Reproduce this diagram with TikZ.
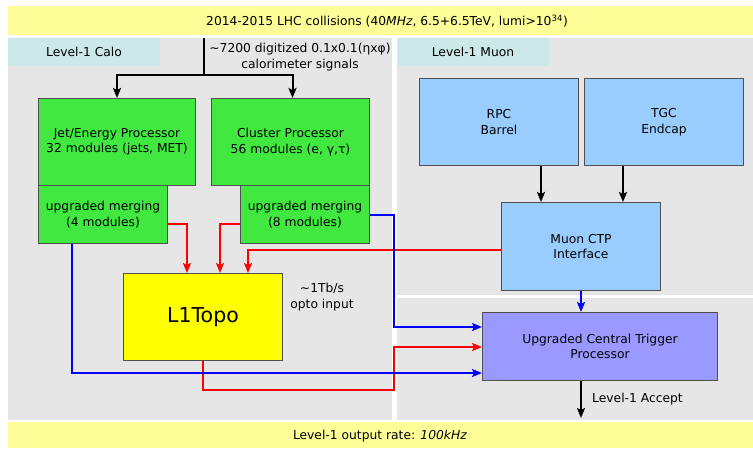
\documentclass[tikz,border=0pt]{standalone}
\usepackage{fontspec}
\setmainfont{DejaVu Sans}
\usetikzlibrary{arrows.meta,calc}
\definecolor{band}{HTML}{FFFF99}
\definecolor{panel}{HTML}{E6E6E6}
\definecolor{lab}{HTML}{CCE8E8}
\definecolor{grn}{HTML}{40E840}
\definecolor{lblue}{HTML}{99CCFF}
\definecolor{vio}{HTML}{9999FF}
\definecolor{ylw}{HTML}{FFFF00}
\definecolor{edge}{HTML}{505050}
\tikzset{
  txt/.style={font=\fontsize{12.3}{15.5}\selectfont, align=center, inner sep=0pt},
  box/.style={txt, draw=edge, line width=1pt, anchor=north west},
  conn/.style={line width=2pt, -{Stealth[length=10pt,width=8pt,inset=2pt]}},
  plain/.style={line width=2pt},
}
\begin{document}
\begin{tikzpicture}[x=1pt,y=-1pt]
\useasboundingbox[fill=white] (0,0) rectangle (753,448);
% bands and panels
\fill[band] (8,6) rectangle (753,35);
\fill[band] (8,422) rectangle (753,448);
\fill[panel] (8,38) rectangle (392,420);
\fill[panel] (397,38) rectangle (753,295);
\fill[panel] (397,298) rectangle (753,420);
\fill[lab] (8,38) rectangle (160,66);
\fill[lab] (398,38) rectangle (549,66);
\node[txt] (toptxt) at (387,21) {2014-2015 LHC collisions (40\textit{MHz}, 6.5+6.5TeV, lumi>10\textsuperscript{34})};
\node[txt] (bottxt) at (380,436) {Level-1 output rate: \textit{100kHz}};
\node[txt] (calo) at (84,52) {Level-1 Calo};
\node[txt] (muon) at (473,52) {Level-1 Muon};
\node[txt] (sig) at (300,57) {\textasciitilde7200 digitized 0.1x0.1(ηxφ)\\calorimeter signals};
% boxes
\node[box, fill=grn, minimum width=157pt, minimum height=87pt] (jep) at (38,98) {Jet/Energy Processor\\32 modules (jets, MET)};
\node[box, fill=grn, minimum width=129pt, minimum height=58pt] (jepm) at (38,185) {upgraded merging\\(4 modules)};
\node[box, fill=grn, minimum width=158pt, minimum height=87pt] (cp) at (211,98) {Cluster Processor\\56 modules (e, γ,τ)};
\node[box, fill=grn, minimum width=129pt, minimum height=58pt] (cpm) at (240,185) {upgraded merging\\(8 modules)};
\node[box, fill=ylw, minimum width=159pt, minimum height=87pt, font=\fontsize{20.5}{24}\selectfont] (topo) at (123,273) {L1Topo};
\node[txt] (opto) at (322,297) {\textasciitilde1Tb/s\\opto input};
\node[box, fill=lblue, minimum width=159pt, minimum height=87pt] (rpc) at (419,78) {RPC\\Barrel};
\node[box, fill=lblue, minimum width=159pt, minimum height=87pt] (tgc) at (584,78) {TGC\\Endcap};
\node[box, fill=lblue, minimum width=159pt, minimum height=88pt] (mctp) at (501,202) {Muon CTP\\Interface};
\node[box, fill=vio, minimum width=235pt, minimum height=68pt] (uctp) at (482,312) {Upgraded Central Trigger\\Processor};
\node[txt, anchor=west] (acc) at (592,399) {Level-1 Accept};
% coordinates
\coordinate (src) at (204,38);
\coordinate (split) at (204,75);
\coordinate (b1) at (394,327);
\coordinate (b2) at (72,373);
\coordinate (r1) at (394,390);
\coordinate (r2) at (394,347);
\coordinate (accend) at (581,418);
% black connectors
\draw[plain] (src) -- (split);
\draw[conn] (split) -| (jep.north);
\draw[conn] (split) -| ([xshift=2pt]cp.north);
\draw[conn] ([xshift=42pt]rpc.south) -- ([xshift=42pt]rpc.south |- mctp.north);
\draw[conn] ([xshift=-41pt]tgc.south) -- ([xshift=-41pt]tgc.south |- mctp.north);
\draw[conn] (uctp.south -| accend) -- (accend);
% red connectors
\draw[conn, red] ([yshift=-9pt]jepm.east) -| ([xshift=64pt]topo.north west);
\draw[conn, red] ([yshift=-9pt]cpm.west) -| ([xshift=97pt]topo.north west);
\draw[conn, red] ([yshift=-3pt]mctp.west) -| ([xshift=125pt]topo.north west);
\draw[conn, red] ([xshift=-0.5pt]topo.south) |- (r1) -- (r2) -- (r2 -| uctp.west);
% blue connectors
\draw[conn, blue] (cpm.east) -| (b1) -- (b1 -| uctp.west);
\draw[conn, blue] (jepm.south -| b2) -- (b2) -- (b2 -| uctp.west);
\draw[conn, blue] (mctp.south) -- (mctp.south |- uctp.north);
\end{tikzpicture}
\end{document}
